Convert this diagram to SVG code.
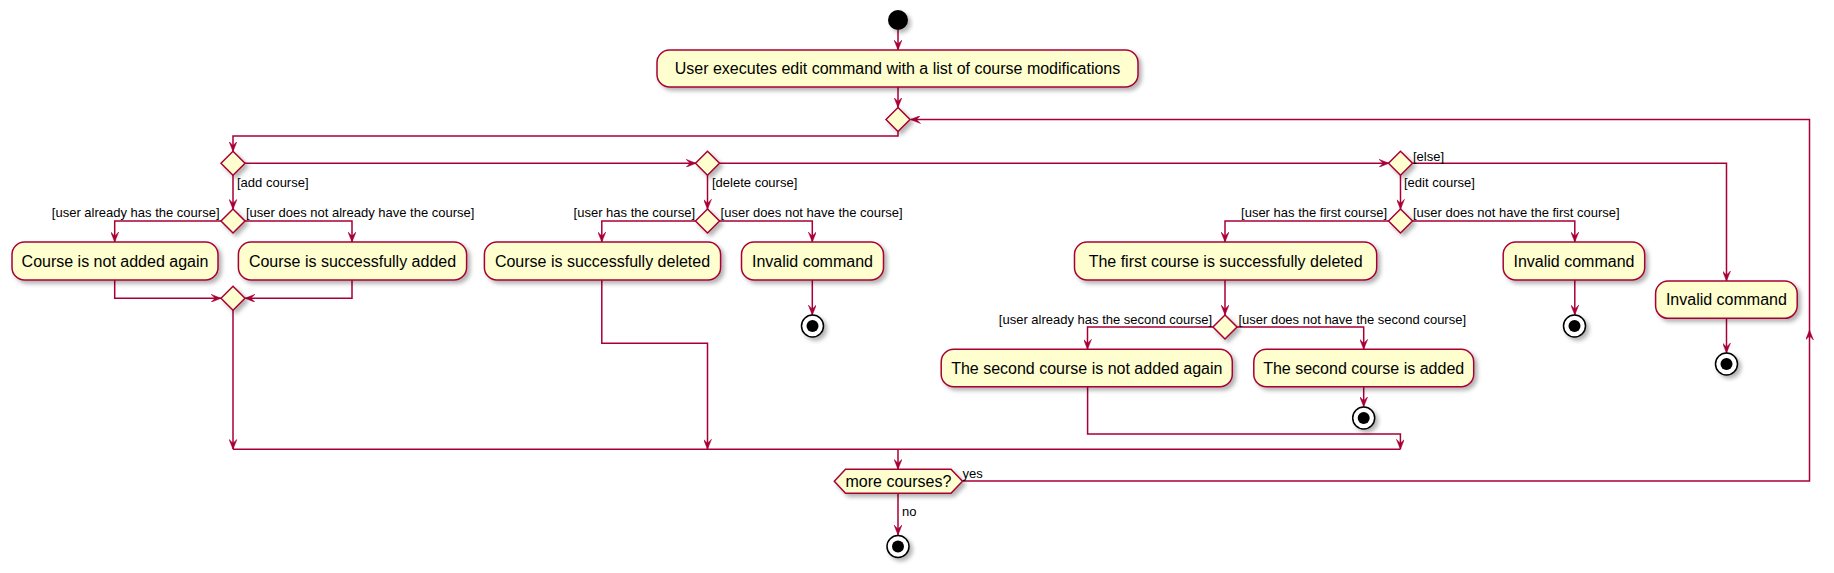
<svg xmlns="http://www.w3.org/2000/svg" width="1834" height="573" viewBox="0 0 1834 573">
<style>
.act{fill:#FEFECE;stroke:#A80036;stroke-width:1.5;filter:url(#sh)}
.dia{fill:#FEFECE;stroke:#A80036;stroke-width:1.5;filter:url(#sh)}
.t{font-family:"Liberation Sans",Arial,sans-serif;font-size:16px;fill:#000;text-anchor:middle}
.l{font-family:"Liberation Sans",Arial,sans-serif;font-size:13px;fill:#000}
.e{text-anchor:end}
.c{fill:none;stroke:#A80036;stroke-width:1.5}
.a{marker-end:url(#ah)}
.endo{fill:#fff;stroke:#000;stroke-width:1.5;filter:url(#sh)}
.endi{fill:#000}
</style>
<defs>
<filter id="sh" x="-30%" y="-30%" width="160%" height="160%">
<feDropShadow dx="3" dy="3" stdDeviation="2" flood-color="#000" flood-opacity="0.3"/>
</filter>
<marker id="ah" markerUnits="userSpaceOnUse" viewBox="0 0 10 8" markerWidth="10" markerHeight="8" refX="10" refY="4" orient="auto">
<path d="M0,0 L10,4 L0,8 L4,4 Z" fill="#A80036" stroke="#A80036" stroke-width="0.5"/>
</marker>
</defs>

<g id="connectors">
<path class="c a" d="M898,30 L898,50"/>
<path class="c a" d="M898,87 L898,107.5"/>
<path class="c a" d="M898,131.5 L898,136 L233,136 L233,151.5"/>
<path class="c a" d="M245,163.3 L696,163.3"/>
<path class="c a" d="M719,163.3 L1389,163.3"/>
<path class="c a" d="M1412.5,163.3 L1726.5,163.3 L1726.5,281"/>
<path class="c a" d="M233,175 L233,209.3"/>
<path class="c a" d="M221,221 L114.7,221 L114.7,242"/>
<path class="c a" d="M245,221 L352,221 L352,242"/>
<path class="c a" d="M114.7,280 L114.7,298.3 L221,298.3"/>
<path class="c a" d="M352,280 L352,298.3 L245,298.3"/>
<path class="c a" d="M233,310 L233,449.3"/>
<path class="c a" d="M707.5,175 L707.5,209.3"/>
<path class="c a" d="M696,221 L601.8,221 L601.8,242"/>
<path class="c a" d="M719,221 L812.3,221 L812.3,242"/>
<path class="c a" d="M812.3,280 L812.3,315"/>
<path class="c a" d="M601.8,280 L601.8,343.3 L707.5,343.3 L707.5,449.3"/>
<path class="c a" d="M1400.5,175 L1400.5,209.3"/>
<path class="c a" d="M1389,221 L1225,221 L1225,242"/>
<path class="c a" d="M1412,221 L1574.8,221 L1574.8,242"/>
<path class="c a" d="M1574.8,280 L1574.8,315"/>
<path class="c a" d="M1225,280 L1225,315"/>
<path class="c a" d="M1213,327 L1087.5,327 L1087.5,349.3"/>
<path class="c a" d="M1237,327 L1363.7,327 L1363.7,349.3"/>
<path class="c a" d="M1363.7,387 L1363.7,406.7"/>
<path class="c a" d="M1087.6,387 L1087.6,434 L1400.4,434 L1400.4,449.3"/>
<path class="c a" d="M1726.5,318.3 L1726.5,353"/>
<path class="c" d="M233,449.3 L1400.5,449.3"/>
<path class="c a" d="M898,449.3 L898,469.3"/>
<path class="c a" d="M962.5,481 L1809.5,481 L1809.5,330"/>
<path class="c a" d="M1809.5,330 L1809.5,119.5 L910.5,119.5"/>
<path class="c a" d="M898,493.3 L898,535"/>
</g>

<g id="start"><circle cx="898" cy="20" r="10" fill="#000" filter="url(#sh)"/></g>

<g id="n_execute">
<rect class="act" x="657" y="50" width="481" height="37" rx="12.5"/>
<text class="t" x="897.5" y="74">User executes edit command with a list of course modifications</text>
</g>

<g id="merge_loop"><polygon class="dia" points="898,107.5 910,119.5 898,131.5 886,119.5"/></g>

<g id="d_add"><polygon class="dia" points="233,151.3 245,163.3 233,175.3 221,163.3"/></g>
<g id="d_delete"><polygon class="dia" points="707.5,151.3 719.5,163.3 707.5,175.3 695.5,163.3"/></g>
<g id="d_edit"><polygon class="dia" points="1400.5,151.3 1412.5,163.3 1400.5,175.3 1388.5,163.3"/></g>

<g id="d_add_has"><polygon class="dia" points="233,209 245,221 233,233 221,221"/></g>
<g id="d_del_has"><polygon class="dia" points="707.5,209 719.5,221 707.5,233 695.5,221"/></g>
<g id="d_edit_has"><polygon class="dia" points="1400.5,209 1412.5,221 1400.5,233 1388.5,221"/></g>

<g id="n_not_added">
<rect class="act" x="12" y="242" width="206" height="38" rx="12.5"/>
<text class="t" x="115" y="266.5">Course is not added again</text>
</g>
<g id="n_added">
<rect class="act" x="238.4" y="242" width="228.2" height="38" rx="12.5"/>
<text class="t" x="352.5" y="266.5">Course is successfully added</text>
</g>
<g id="merge_add"><polygon class="dia" points="233,286.3 245,298.3 233,310.3 221,298.3"/></g>

<g id="n_deleted">
<rect class="act" x="484.4" y="242" width="236.2" height="38" rx="12.5"/>
<text class="t" x="602.5" y="266.5">Course is successfully deleted</text>
</g>
<g id="n_invalid1">
<rect class="act" x="741.5" y="242" width="142" height="38" rx="12.5"/>
<text class="t" x="812.5" y="266.5">Invalid command</text>
</g>
<g id="end1"><circle class="endo" cx="812.5" cy="326" r="11"/><circle class="endi" cx="812.5" cy="326" r="6"/></g>

<g id="n_first_deleted">
<rect class="act" x="1074.5" y="242" width="302.2" height="38" rx="12.5"/>
<text class="t" x="1225.6" y="266.5">The first course is successfully deleted</text>
</g>
<g id="n_invalid2">
<rect class="act" x="1503.2" y="242" width="141.5" height="38" rx="12.5"/>
<text class="t" x="1574" y="266.5">Invalid command</text>
</g>
<g id="end2"><circle class="endo" cx="1574.5" cy="326" r="11"/><circle class="endi" cx="1574.5" cy="326" r="6"/></g>

<g id="d_second"><polygon class="dia" points="1225,315 1237,327 1225,339 1213,327"/></g>

<g id="n_second_not_added">
<rect class="act" x="941.2" y="349.3" width="291.1" height="37.4" rx="12.5"/>
<text class="t" x="1086.8" y="373.5">The second course is not added again</text>
</g>
<g id="n_second_added">
<rect class="act" x="1253.8" y="349.3" width="219.9" height="37.4" rx="12.5"/>
<text class="t" x="1363.7" y="373.5">The second course is added</text>
</g>
<g id="end3"><circle class="endo" cx="1363.7" cy="418" r="11"/><circle class="endi" cx="1363.7" cy="418" r="6"/></g>

<g id="n_invalid3">
<rect class="act" x="1655.6" y="281" width="141.6" height="37.3" rx="12.5"/>
<text class="t" x="1726.4" y="305.2">Invalid command</text>
</g>
<g id="end4"><circle class="endo" cx="1726.5" cy="364" r="11"/><circle class="endi" cx="1726.5" cy="364" r="6"/></g>

<g id="d_more">
<polygon class="dia" points="834.3,481.3 845.5,469.3 951,469.3 962.5,481.3 951,493.3 845.5,493.3"/>
<text class="t" x="898.4" y="487">more courses?</text>
</g>
<g id="end_final"><circle class="endo" cx="898" cy="546.5" r="11"/><circle class="endi" cx="898" cy="546.5" r="6"/></g>

<g id="labels">
<text class="l" x="237" y="187">[add course]</text>
<text class="l" x="712" y="187">[delete course]</text>
<text class="l" x="1404" y="187">[edit course]</text>
<text class="l" x="1413" y="160.5">[else]</text>
<text class="l e" x="219.5" y="217">[user already has the course]</text>
<text class="l" x="246" y="217">[user does not already have the course]</text>
<text class="l e" x="695" y="217">[user has the course]</text>
<text class="l" x="720.6" y="217">[user does not have the course]</text>
<text class="l e" x="1387" y="217">[user has the first course]</text>
<text class="l" x="1413" y="217">[user does not have the first course]</text>
<text class="l e" x="1212" y="324">[user already has the second course]</text>
<text class="l" x="1238.4" y="324">[user does not have the second course]</text>
<text class="l" x="962.5" y="478">yes</text>
<text class="l" x="902" y="516">no</text>
</g>
</svg>
